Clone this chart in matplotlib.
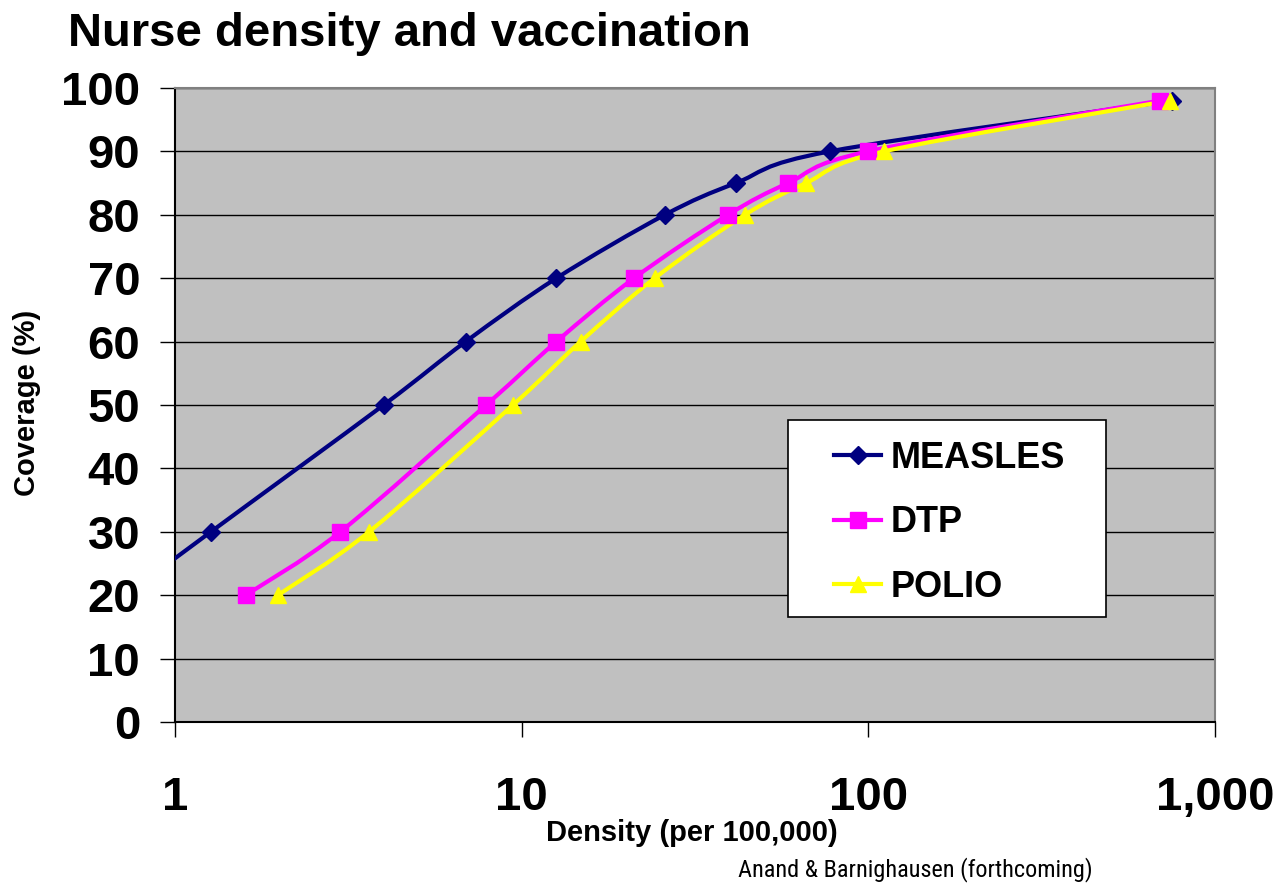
import numpy as np
import matplotlib
matplotlib.use("Agg")
import matplotlib.pyplot as plt
from matplotlib.path import Path
from matplotlib.patches import PathPatch, Rectangle
from matplotlib.lines import Line2D

# data
coverage = [20, 30, 50, 60, 70, 80, 85, 90, 98]
measles_density = [0.72, 1.27, 4.0, 6.9, 12.6, 25.9, 41.5, 77.5, 751]
dtp_density = [1.6, 3.0, 7.9, 12.6, 21.1, 39.4, 58.7, 99.8, 694]
polio_density = [1.98, 3.63, 9.44, 14.8, 24.2, 44.1, 66.1, 111, 742]
series_names = ["MEASLES", "DTP", "POLIO"]
x_ticks = [1, 10, 100, 1000]
x_ticklabels = ["1", "10", "100", "1,000"]
y_ticks = list(range(0, 101, 10))

plt.rcParams["font.family"] = ["Liberation Sans", "DejaVu Sans"]


def smooth_path(xs, ys):
    # excel-style smoothed line: catmull-rom bezier in (log x, y) space
    lx = np.log10(xs)
    pts = np.column_stack([lx, ys])
    n = len(pts)
    verts = [pts[0]]
    codes = [Path.MOVETO]
    for i in range(n - 1):
        p0 = pts[i - 1] if i > 0 else pts[i]
        p1 = pts[i]
        p2 = pts[i + 1]
        p3 = pts[i + 2] if i + 2 < n else pts[i + 1]
        c1 = p1 + (p2 - p0) / 6
        c2 = p2 - (p3 - p1) / 6
        verts += [c1, c2, p2]
        codes += [Path.CURVE4] * 3
    verts = np.array(verts)
    verts[:, 0] = 10 ** verts[:, 0]
    return Path(verts, codes)


fig = plt.figure(figsize=(12.78, 8.84), dpi=100)
ax = fig.add_axes([0.1369, 0.1833, 0.8138, 0.7172])
ax.set_facecolor("#C0C0C0")
ax.set_xscale("log")
ax.set_xlim(1, 1000)
ax.set_ylim(0, 100)

for y in y_ticks[1:]:
    ax.axhline(y, color="black", lw=1.0, zorder=1)

styles = [("#000080", "D", 9), ("#FF00FF", "s", 11), ("#FFFF00", "^", 12)]
handles = []
for dens, name, (col, mk, ms) in zip([measles_density, dtp_density, polio_density], series_names, styles):
    patch = PathPatch(smooth_path(dens, coverage), facecolor="none", edgecolor=col, lw=3, zorder=3)
    ax.add_patch(patch)
    ax.plot(dens, coverage, ls="none", marker=mk, ms=ms, color=col, zorder=4)
    handles.append(Line2D([], [], color=col, lw=3, marker=mk, ms=ms))

ax.set_xticks(x_ticks)
ax.set_xticklabels(x_ticklabels)
ax.xaxis.set_minor_locator(matplotlib.ticker.NullLocator())
ax.set_yticks(y_ticks)
ax.tick_params(axis="both", direction="out", length=11, width=1, labelsize=34)
ax.tick_params(axis="x", pad=28)
ax.tick_params(axis="y", pad=14)
for lab in ax.get_xticklabels() + ax.get_yticklabels():
    lab.set_fontweight("bold")

ax.spines["left"].set_color("black")
ax.spines["bottom"].set_color("black")
ax.spines["top"].set_color("#808080")
ax.spines["right"].set_color("#808080")
for s in ax.spines.values():
    s.set_linewidth(1.5)

ax.add_patch(Rectangle((0.589, 0.1656), 0.306, 0.3107, transform=ax.transAxes,
                       facecolor="white", edgecolor="black", lw=1.2, zorder=5))
leg = ax.legend(handles, series_names, loc="center left", bbox_to_anchor=(0.634, 0.314),
                frameon=False, borderpad=0, borderaxespad=0, handlelength=1.3,
                handletextpad=0.25, labelspacing=0.82,
                prop={"size": 26, "weight": "bold"})
leg.set_zorder(6)

fig.text(0.053, 0.962, "Nurse density and vaccination", fontsize=34, fontweight="bold",
         va="center", ha="left")
fig.text(0.021, 0.544, "Coverage (%)", fontsize=21, fontweight="bold", rotation=90,
         va="center", ha="center")
fig.text(0.5415, 0.0577, "Density (per 100,000)", fontsize=21, fontweight="bold",
         va="center", ha="center")
fig.text(0.855, 0.016, "Anand & Barnighausen (forthcoming)", fontsize=17.5,
         family=["Roboto Condensed", "DejaVu Sans"], va="center", ha="right")

fig.savefig("out.png", dpi=100)
